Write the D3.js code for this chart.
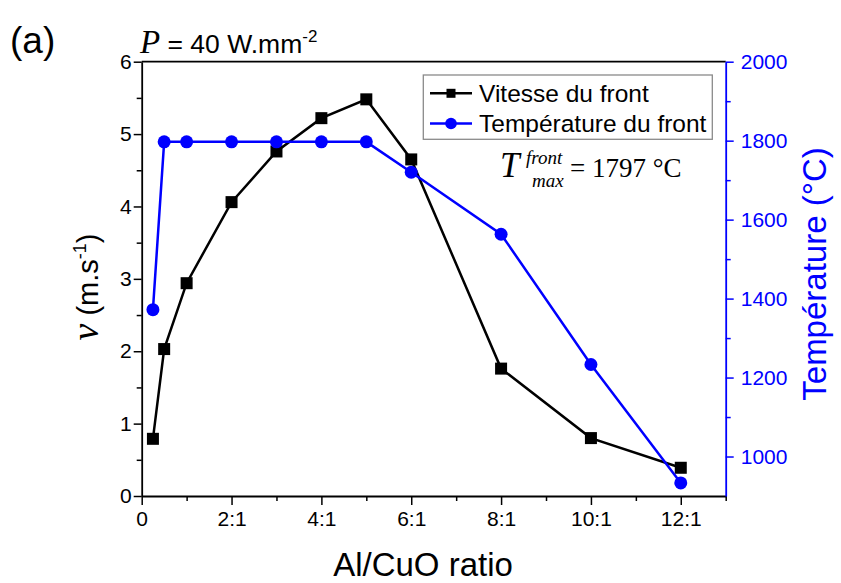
<!DOCTYPE html>
<html>
<head>
<meta charset="utf-8">
<script src="https://cdn.jsdelivr.net/npm/d3@7"></script>
<style>
  html, body { margin: 0; padding: 0; background: #fff; }
  svg { display: block; }
</style>
</head>
<body>
<svg id="chart" width="841" height="583"></svg>
<script>
// ---------- DATA ----------
const ratio = [0.25, 0.5, 1, 2, 3, 4, 5, 6, 8, 10, 12];
const velocity = [0.79, 2.03, 2.94, 4.06, 4.76, 5.22, 5.48, 4.65, 1.76, 0.80, 0.39];
const temperature = [1372, 1797, 1797, 1797, 1797, 1797, 1797, 1720, 1563, 1233, 933];
const seriesNames = ["Vitesse du front", "Température du front"];
const xTickValues = [0, 2, 4, 6, 8, 10, 12];
const xTickLabels = ["0", "2:1", "4:1", "6:1", "8:1", "10:1", "12:1"];
const xMinorTicks = [1, 3, 5, 7, 9, 11, 13];
const yLeftTicks = [0, 1, 2, 3, 4, 5, 6];
const yLeftMinor = [0.5, 1.5, 2.5, 3.5, 4.5, 5.5];
const yRightTicks = [1000, 1200, 1400, 1600, 1800, 2000];
const yRightMinor = [1100, 1300, 1500, 1700, 1900];

// ---------- LAYOUT ----------
const L = 141.7, R = 725.7, T = 61.7, B = 496;
const BLUE = "#0000ff";
const SANS = "'Liberation Sans', Arial, sans-serif";
const SERIF = "'Liberation Serif', 'Times New Roman', serif";

const svg = d3.select("#chart");
const x = d3.scaleLinear().domain([0, 13]).range([L, R]);
const yL = d3.scaleLinear().domain([0, 6]).range([B, T]);
const yR = d3.scaleLinear().domain([900, 2000]).range([B, T]);

function styleAxis(g, color) {
  g.selectAll("path.domain").attr("stroke", color).attr("stroke-width", 1.8);
  g.selectAll(".tick line").attr("stroke", color).attr("stroke-width", 1.5);
  g.selectAll(".tick text").attr("fill", color).style("font-family", SANS).style("font-size", "21px");
}

// minor ticks
svg.append("g").attr("transform", `translate(0,${B})`)
  .call(d3.axisBottom(x).tickValues(xMinorTicks).tickSize(5).tickFormat(""))
  .call(g => { g.select(".domain").remove(); g.selectAll("line").attr("stroke", "#000").attr("stroke-width", 1.5); });
svg.append("g").attr("transform", `translate(${L},0)`)
  .call(d3.axisLeft(yL).tickValues(yLeftMinor).tickSize(5).tickFormat(""))
  .call(g => { g.select(".domain").remove(); g.selectAll("line").attr("stroke", "#000").attr("stroke-width", 1.5); });
svg.append("g").attr("transform", `translate(${R},0)`)
  .call(d3.axisRight(yR).tickValues(yRightMinor).tickSize(5).tickFormat(""))
  .call(g => { g.select(".domain").remove(); g.selectAll("line").attr("stroke", BLUE).attr("stroke-width", 1.5); });

// top line
svg.append("line").attr("x1", L).attr("x2", R).attr("y1", T).attr("y2", T)
  .attr("stroke", "#000").attr("stroke-width", 1.8);

// major axes
svg.append("g").attr("transform", `translate(0,${B})`)
  .call(d3.axisBottom(x).tickValues(xTickValues).tickSize(9).tickSizeOuter(0).tickPadding(6)
    .tickFormat((d, i) => xTickLabels[i]))
  .call(g => styleAxis(g, "#000"));
svg.append("g").attr("transform", `translate(${L},0)`)
  .call(d3.axisLeft(yL).tickValues(yLeftTicks).tickSize(8).tickSizeOuter(0).tickPadding(2)
    .tickFormat(d3.format("d")))
  .call(g => styleAxis(g, "#000"));
svg.append("g").attr("transform", `translate(${R},0)`)
  .call(d3.axisRight(yR).tickValues(yRightTicks).tickSize(8).tickSizeOuter(0).tickPadding(7)
    .tickFormat(d3.format("d")))
  .call(g => styleAxis(g, BLUE));

// ---------- SERIES ----------
const vData = ratio.map((r, i) => ({ x: r, y: velocity[i] }));
const tData = ratio.map((r, i) => ({ x: r, y: temperature[i] }));

svg.append("path").datum(vData)
  .attr("fill", "none").attr("stroke", "#000").attr("stroke-width", 2.5)
  .attr("d", d3.line().x(d => x(d.x)).y(d => yL(d.y)));
const sq = 12;
svg.selectAll("rect.vm").data(vData).enter().append("rect").attr("class", "vm")
  .attr("x", d => x(d.x) - sq / 2).attr("y", d => yL(d.y) - sq / 2)
  .attr("width", sq).attr("height", sq).attr("fill", "#000");

svg.append("path").datum(tData)
  .attr("fill", "none").attr("stroke", BLUE).attr("stroke-width", 2.5)
  .attr("d", d3.line().x(d => x(d.x)).y(d => yR(d.y)));
svg.selectAll("circle.tm").data(tData).enter().append("circle").attr("class", "tm")
  .attr("cx", d => x(d.x)).attr("cy", d => yR(d.y)).attr("r", 6.5).attr("fill", BLUE);

// ---------- LEGEND ----------
const lg = svg.append("g");
lg.append("rect").attr("x", 423.3).attr("y", 75).attr("width", 289).attr("height", 64.3)
  .attr("fill", "#fff").attr("stroke", "#8a8a8a").attr("stroke-width", 1.3);
const rows = [93.3, 123.5];
seriesNames.forEach((name, i) => {
  const col = i === 0 ? "#000" : BLUE;
  lg.append("line").attr("x1", 430).attr("x2", 472).attr("y1", rows[i]).attr("y2", rows[i])
    .attr("stroke", col).attr("stroke-width", 2.5);
  if (i === 0) {
    lg.append("rect").attr("x", 451 - 4.5).attr("y", rows[i] - 4.5).attr("width", 9).attr("height", 9).attr("fill", col);
  } else {
    lg.append("circle").attr("cx", 451).attr("cy", rows[i]).attr("r", 5.8).attr("fill", col);
  }
  lg.append("text").attr("x", 479).attr("y", rows[i] + 8.5)
    .style("font-family", SANS).style("font-size", "24.5px").attr("fill", "#000").text(name);
});

// ---------- ANNOTATION ----------
svg.append("text").attr("x", 500).attr("y", 177).style("font-family", SERIF).style("font-style", "italic")
  .style("font-size", "35px").text("T");
svg.append("text").attr("x", 526).attr("y", 164).style("font-family", SERIF).style("font-style", "italic")
  .style("font-size", "19px").text("front");
svg.append("text").attr("x", 532).attr("y", 187).style("font-family", SERIF).style("font-style", "italic")
  .style("font-size", "19px").text("max");
svg.append("text").attr("x", 570).attr("y", 177).style("font-family", SERIF).style("font-size", "27px")
  .attr("fill", "#000").text("= 1797 °C");

// ---------- TITLES ----------
svg.append("text").attr("x", 10).attr("y", 53).style("font-family", SANS).style("font-size", "37px").text("(a)");

const pt = svg.append("text").attr("x", 140).attr("y", 53).attr("fill", "#000");
pt.append("tspan").style("font-family", SERIF).style("font-style", "italic").style("font-size", "33px").text("P");
pt.append("tspan").style("font-family", SANS).style("font-size", "26.5px").text(" = 40 W.mm");
pt.append("tspan").style("font-family", SANS).style("font-size", "17px").attr("dy", -11).text("-2");

// x label
svg.append("text").attr("x", 423).attr("y", 576).attr("text-anchor", "middle")
  .style("font-family", SANS).style("font-size", "33px").text("Al/CuO ratio");

// left y label
const yl = svg.append("text").attr("transform", "translate(98,287) rotate(-90)").attr("text-anchor", "middle");
yl.append("tspan").style("font-family", SERIF).style("font-style", "italic").style("font-size", "38px").text("v");
yl.append("tspan").style("font-family", SANS).style("font-size", "29px").text(" (m.s");
yl.append("tspan").style("font-family", SANS).style("font-size", "18px").attr("dy", -12).text("-1");
yl.append("tspan").style("font-family", SANS).style("font-size", "29px").attr("dy", 12).text(")");

// right y label
svg.append("text").attr("transform", "translate(826,274) rotate(-90)").attr("text-anchor", "middle")
  .style("font-family", SANS).style("font-size", "33px").attr("fill", BLUE).text("Température (°C)");
</script>
</body>
</html>
